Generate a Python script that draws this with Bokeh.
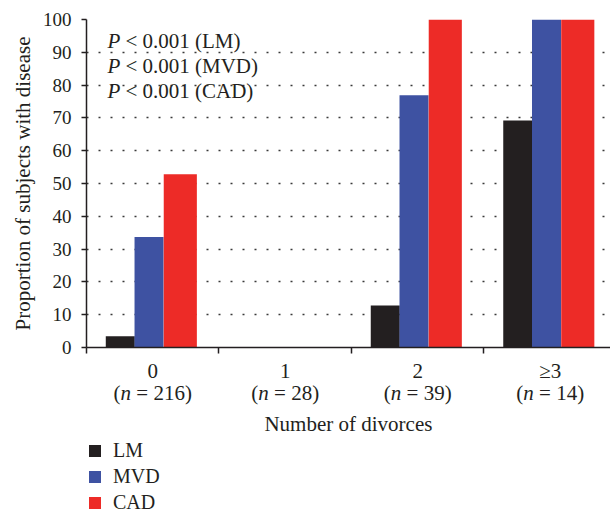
from bokeh.plotting import figure
from bokeh.layouts import column
from bokeh.models import Range1d, FixedTicker, Legend, LegendItem, ColumnDataSource
from bokeh.core.properties import value
from bokeh.embed import file_html
from bokeh.resources import INLINE

# ---- data ----
categories = ["0", "1", "2", "\u22653"]
group_sizes = [216, 28, 39, 14]
lm = [3.4, 0.0, 12.8, 69.2]
mvd = [33.7, 0.0, 76.9, 100.0]
cad = [52.8, 0.0, 100.0, 100.0]
series_names = ["LM", "MVD", "CAD"]
p_notes = ["< 0.001 (LM)", "< 0.001 (MVD)", "< 0.001 (CAD)"]
y_ticks = [0, 10, 20, 30, 40, 50, 60, 70, 80, 90, 100]
x_title = "Number of divorces"
y_title = "Proportion of subjects with disease"

# ---- style ----
FONT = "Liberation Serif"
INK = "#231f20"
colors = ["#231f20", "#3e52a2", "#ed2b27"]
offsets = [-0.245, -0.028, 0.208]
widths = [0.219, 0.219, 0.25]
FS = 21
W = 610
H1 = 360
H2 = 156
XR = Range1d(0, 3.955)

# ---------------- main chart ----------------
p = figure(width=W, height=H1, output_backend="svg", toolbar_location=None,
           x_range=XR, y_range=Range1d(0, 100),
           min_border_left=86, min_border_right=0, min_border_top=19,
           min_border_bottom=13)
p.outline_line_color = None

renderers = []
for vals, col, off, w in zip([lm, mvd, cad], colors, offsets, widths):
    src = ColumnDataSource(dict(x=[i + 0.5 + off for i in range(len(categories))], top=vals))
    r = p.vbar(x="x", top="top", bottom=0, width=w, source=src, fill_color=col, line_color=None)
    renderers.append(r)

p.xgrid.visible = False
p.ygrid.ticker = FixedTicker(ticks=y_ticks)
p.ygrid.grid_line_color = "#3a3a3a"
p.ygrid.grid_line_dash = "2 10"
p.ygrid.grid_line_width = 1.4

ya = p.yaxis[0]
ya.ticker = FixedTicker(ticks=y_ticks)
ya.axis_line_color = INK
ya.axis_line_width = 1.5
ya.major_tick_line_color = INK
ya.major_tick_line_width = 1.5
ya.major_tick_out = 5
ya.major_tick_in = 0
ya.minor_tick_line_color = None
ya.major_label_standoff = 10
ya.major_label_text_font = FONT
ya.major_label_text_font_size = "19px"
ya.major_label_text_color = INK
ya.axis_label = y_title
ya.axis_label_text_font = FONT
ya.axis_label_text_font_size = f"{FS}px"
ya.axis_label_text_font_style = "normal"
ya.axis_label_text_color = INK
ya.axis_label_standoff = 5

xa = p.xaxis[0]
xa.ticker = FixedTicker(ticks=[], minor_ticks=list(range(len(categories) + 1)))
xa.axis_line_color = INK
xa.axis_line_width = 1.5
xa.major_tick_line_color = None
xa.minor_tick_line_color = INK
xa.minor_tick_line_width = 1.5
xa.minor_tick_out = 6
xa.minor_tick_in = 0

# P-value notes (italic P + rest)
note_y = [93.4 - 7.6 * k for k in range(len(p_notes))]
p.text(x=[0.158] * len(p_notes), y=note_y, text=["P"] * len(p_notes),
       text_font=value(FONT), text_font_size=f"{FS}px", text_font_style="italic",
       text_color=INK, text_align="left", text_baseline="middle")
p.text(x=[0.158] * len(p_notes), y=note_y, text=p_notes, x_offset=18,
       text_font=value(FONT), text_font_size=f"{FS}px",
       text_color=INK, text_align="left", text_baseline="middle")

# ---------------- lower panel: category labels, axis title, legend ----------------
q = figure(width=W, height=H2, output_backend="svg", toolbar_location=None,
           x_range=XR, y_range=Range1d(516, 360),
           x_axis_location=None, y_axis_location=None,
           min_border_left=86, min_border_right=0, min_border_top=0, min_border_bottom=0)
q.outline_line_color = None
q.xgrid.visible = False
q.ygrid.visible = False

EM = {"(": 0.333, ")": 0.333, " ": 0.25, "=": 0.564, "n": 0.5}
def width_px(s):
    return sum(EM.get(ch, 0.5) for ch in s) * FS

cx = [i + 0.5 for i in range(len(categories))]
q.text(x=cx, y=[370] * len(cx), text=categories, text_font=value(FONT),
       text_font_size=f"{FS}px", text_color=INK, text_align="center", text_baseline="middle")

rest = [f"= {n})" for n in group_sizes]
for i, r in enumerate(rest):
    tot = width_px("(n ") + width_px(r)
    s = -tot / 2
    q.text(x=[cx[i]], y=[392], text=["("], x_offset=s, text_font=value(FONT),
           text_font_size=f"{FS}px", text_color=INK, text_align="left", text_baseline="middle")
    q.text(x=[cx[i]], y=[392], text=["n"], x_offset=s + width_px("("), text_font=value(FONT),
           text_font_size=f"{FS}px", text_font_style="italic", text_color=INK,
           text_align="left", text_baseline="middle")
    q.text(x=[cx[i]], y=[392], text=[r], x_offset=s + width_px("(n "), text_font=value(FONT),
           text_font_size=f"{FS}px", text_color=INK, text_align="left", text_baseline="middle")

q.text(x=[1.977], y=[423], text=[x_title], text_font=value(FONT), text_font_size=f"{FS}px",
       text_color=INK, text_align="center", text_baseline="middle")

# legend built from proxy renderers (placed outside the visible range) with the same styling
proxies = []
for col in colors:
    proxies.append(q.vbar(x=[100.0], top=[1000.0], bottom=[999.0], width=0.2,
                          fill_color=col, line_color=None))
legend = Legend(items=[LegendItem(label=nm, renderers=[r]) for nm, r in zip(series_names, proxies)],
                location=(1, 2), orientation="vertical", glyph_width=15, glyph_height=15,
                label_height=20, spacing=3, padding=0, margin=0, border_line_color=None,
                background_fill_alpha=0, label_text_font=FONT, label_text_font_size="20px",
                label_text_color=INK, label_standoff=11)
q.add_layout(legend, "center")

layout = column(p, q, spacing=0)
open("out.html", "w").write(file_html(layout, INLINE))
